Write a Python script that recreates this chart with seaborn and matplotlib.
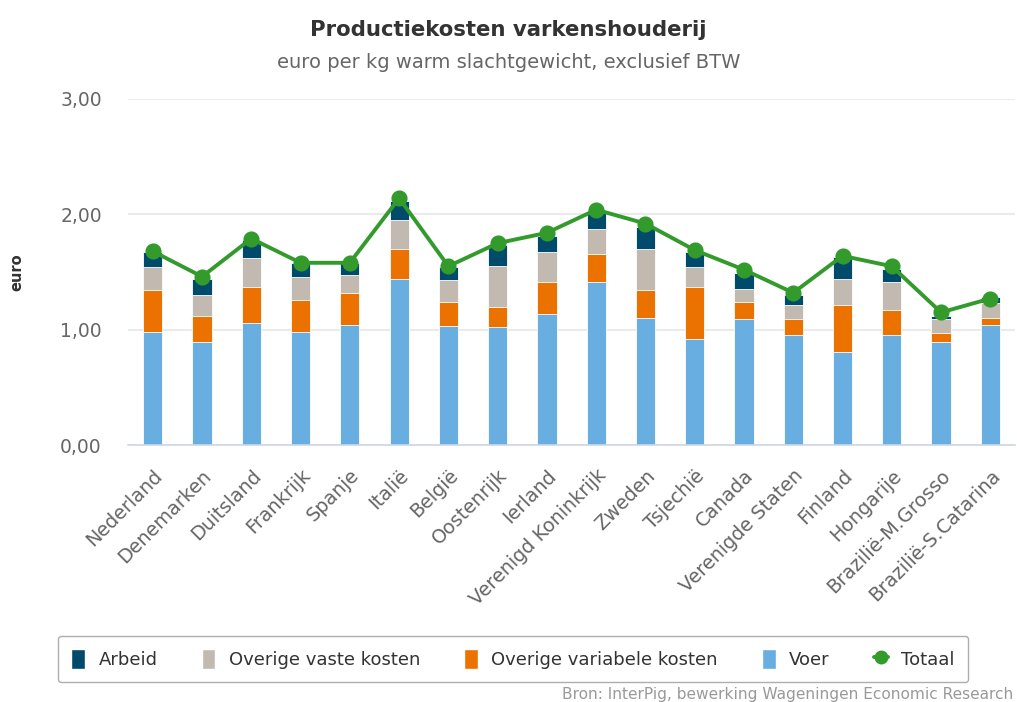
import matplotlib
matplotlib.use("Agg")
import matplotlib.pyplot as plt
from matplotlib.patches import Patch
from matplotlib.lines import Line2D
import numpy as np
import pandas as pd
import seaborn as sns

# Data (euro per kg)
landen = ["Nederland", "Denemarken", "Duitsland", "Frankrijk", "Spanje", "Italië",
          "België", "Oostenrijk", "Ierland", "Verenigd Koninkrijk", "Zweden", "Tsjechië",
          "Canada", "Verenigde Staten", "Finland", "Hongarije", "Brazilië-M.Grosso",
          "Brazilië-S.Catarina"]
voer = [0.98, 0.89, 1.06, 0.98, 1.04, 1.44, 1.03, 1.02, 1.14, 1.41, 1.10, 0.92,
        1.09, 0.95, 0.81, 0.95, 0.89, 1.04]
overige_variabel = [0.36, 0.23, 0.31, 0.28, 0.28, 0.26, 0.21, 0.18, 0.27, 0.25, 0.24, 0.45,
                    0.15, 0.14, 0.40, 0.22, 0.08, 0.06]
overige_vast = [0.20, 0.18, 0.25, 0.20, 0.15, 0.25, 0.19, 0.35, 0.26, 0.21, 0.36, 0.17,
                0.11, 0.12, 0.23, 0.24, 0.12, 0.13]
arbeid = [0.13, 0.14, 0.16, 0.12, 0.11, 0.17, 0.11, 0.18, 0.14, 0.14, 0.19, 0.13,
          0.14, 0.09, 0.19, 0.12, 0.03, 0.05]
totaal = [1.68, 1.46, 1.79, 1.58, 1.58, 2.14, 1.55, 1.75, 1.84, 2.04, 1.92, 1.69,
          1.52, 1.32, 1.64, 1.55, 1.15, 1.27]

c_arbeid = "#004a6c"
c_vast = "#c2bab0"
c_var = "#ec7200"
c_voer = "#69aee0"
c_totaal = "#339a2c"

df = pd.DataFrame({"land": landen, "voer": voer, "var": overige_variabel,
                   "vast": overige_vast, "arbeid": arbeid, "totaal": totaal})
df["top_var"] = df["voer"] + df["var"]
df["top_vast"] = df["top_var"] + df["vast"]
df["top_arbeid"] = df["top_vast"] + df["arbeid"]

sns.set_style("white")
plt.rcParams["font.family"] = ["DejaVu Sans"]

fig = plt.figure(figsize=(10.17, 7.02), dpi=100)
ax = fig.add_axes([0.126, 0.366, 0.872, 0.493])

# stacked bars: draw cumulative heights from the top layer down
for col, color in [("top_arbeid", c_arbeid), ("top_vast", c_vast),
                   ("top_var", c_var), ("voer", c_voer)]:
    sns.barplot(data=df, x="land", y=col, color=color, width=0.39, saturation=1,
                edgecolor="white", linewidth=0.6, ax=ax, zorder=2)

sns.pointplot(data=df, x="land", y="totaal", color=c_totaal, markers="o",
              markersize=9.5, linewidth=2.8, ax=ax, zorder=5)

ax.set_ylim(0, 3)
ax.set_xlim(-0.5, len(landen) - 0.5)
ax.set_yticks([0, 1, 2, 3])
ax.set_yticklabels(["0,00", "1,00", "2,00", "3,00"])
ax.yaxis.grid(True, color="#e6e6e6", linewidth=1.2, zorder=0)
ax.set_axisbelow(True)
for s in ["top", "right", "left"]:
    ax.spines[s].set_visible(False)
ax.spines["bottom"].set_color("#ccd6eb")
ax.spines["bottom"].set_linewidth(1.2)

ax.tick_params(axis="y", length=0, labelsize=13.5, labelcolor="#666666", pad=19)
ax.set_xticks(range(len(landen)))
ax.set_xticklabels(landen, rotation=45, ha="right", rotation_mode="anchor",
                   fontsize=13.8, color="#666666")
ax.tick_params(axis="x", length=0, pad=15)
ax.set_xticks(np.arange(-0.5, len(landen), 1), minor=True)
ax.tick_params(axis="x", which="minor", length=12, color="#ccd6eb", width=1.2)

ax.set_xlabel("")
ax.set_ylabel("")
fig.text(17 / 1017, 1 - 272 / 702, "euro", rotation=90, ha="center", va="center",
         fontsize=10.5, fontweight="bold", color="#333333")

fig.text(0.5, 1 - 30 / 702, "Productiekosten varkenshouderij", ha="center", va="center",
         fontsize=15.3, fontweight="bold", color="#333333")
fig.text(0.5, 1 - 63 / 702, "euro per kg warm slachtgewicht, exclusief BTW", ha="center",
         va="center", fontsize=14, color="#666666")

handles = [Patch(facecolor=c_arbeid, label="Arbeid"),
           Patch(facecolor=c_vast, label="Overige vaste kosten"),
           Patch(facecolor=c_var, label="Overige variabele kosten"),
           Patch(facecolor=c_voer, label="Voer"),
           Line2D([0], [0], color=c_totaal, marker="o", markersize=9, linewidth=2.8,
                  label="Totaal")]
leg = fig.legend(handles=handles, loc="center", bbox_to_anchor=(513 / 1017, 1 - 659 / 702),
                 ncol=5, fontsize=13, frameon=True, fancybox=True, handlelength=0.75,
                 handleheight=1.3, columnspacing=2.45, handletextpad=0.75,
                 borderpad=0.75, borderaxespad=0, labelcolor="#333333")
leg.get_frame().set_edgecolor("#999999")
leg.get_frame().set_linewidth(1.0)

fig.text(1013 / 1017, 1 - 694 / 702, "Bron: InterPig, bewerking Wageningen Economic Research",
         ha="right", va="center", fontsize=11.1, color="#999999")

fig.savefig("out.png", dpi=100)
